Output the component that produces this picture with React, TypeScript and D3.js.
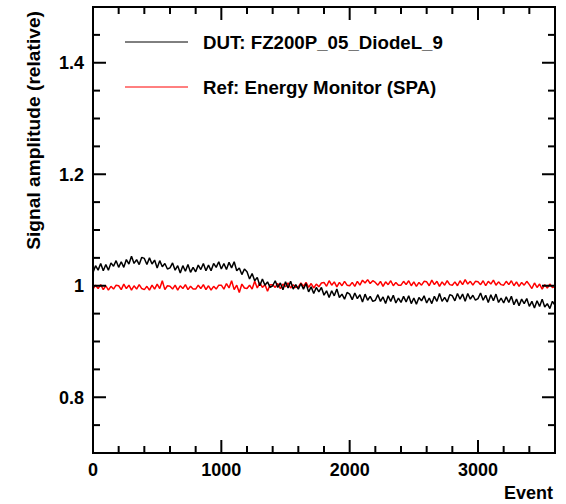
import React from "react";
import * as d3 from "d3";

// Sampled every 20 events (0..3600)
const STEP = 20;
const dutValues = [
  1.024, 1.036, 1.028, 1.040, 1.027, 1.038, 1.028, 1.041, 1.035, 1.045,
  1.033, 1.043, 1.033, 1.047, 1.039, 1.053, 1.040, 1.047, 1.038, 1.051,
  1.049, 1.038, 1.050, 1.039, 1.046, 1.032, 1.045, 1.034, 1.040, 1.030,
  1.032, 1.041, 1.028, 1.036, 1.023, 1.036, 1.026, 1.038, 1.024, 1.033,
  1.025, 1.037, 1.029, 1.040, 1.027, 1.037, 1.027, 1.040, 1.033, 1.043,
  1.030, 1.040, 1.029, 1.042, 1.032, 1.043, 1.027, 1.032, 1.020, 1.030,
  1.025, 1.012, 1.022, 1.009, 1.015, 1.000, 1.012, 1.001, 1.007, 0.997,
  1.000, 1.009, 0.997, 1.005, 0.993, 1.007, 0.996, 1.008, 0.994, 1.002,
  0.994, 1.004, 0.994, 1.004, 0.989, 0.998, 0.986, 0.997, 0.989, 0.997,
  0.983, 0.991, 0.979, 0.991, 0.982, 0.994, 0.979, 0.985, 0.976, 0.988,
  0.985, 0.975, 0.987, 0.977, 0.984, 0.971, 0.985, 0.974, 0.981, 0.972,
  0.974, 0.984, 0.972, 0.980, 0.968, 0.982, 0.972, 0.983, 0.969, 0.978,
  0.970, 0.981, 0.971, 0.982, 0.968, 0.978, 0.967, 0.979, 0.973, 0.982,
  0.969, 0.978, 0.968, 0.981, 0.972, 0.986, 0.972, 0.979, 0.971, 0.984,
  0.982, 0.973, 0.986, 0.976, 0.985, 0.972, 0.986, 0.976, 0.983, 0.974,
  0.977, 0.987, 0.974, 0.983, 0.970, 0.984, 0.973, 0.985, 0.970, 0.978,
  0.969, 0.980, 0.970, 0.981, 0.966, 0.976, 0.964, 0.976, 0.968, 0.977,
  0.963, 0.972, 0.960, 0.973, 0.963, 0.976, 0.962, 0.968, 0.959, 0.972,
  0.965,
];
const refValues = [
  0.994, 1.001, 0.995, 1.002, 0.993, 1.000, 0.992, 0.999, 0.994, 1.001,
  1.000, 0.993, 1.003, 0.995, 1.001, 0.992, 1.000, 0.994, 1.002, 0.995,
  0.993, 0.999, 0.992, 1.001, 0.994, 1.003, 0.995, 1.009, 0.993, 1.000,
  0.999, 0.994, 1.001, 0.992, 1.000, 0.995, 1.002, 0.993, 0.999, 0.994,
  0.994, 1.001, 0.995, 1.002, 0.993, 1.000, 0.992, 0.999, 0.994, 1.001,
  1.001, 0.994, 1.004, 0.996, 1.009, 0.993, 1.001, 0.988, 1.003, 0.996,
  0.995, 1.001, 0.994, 1.008, 0.996, 1.005, 0.997, 1.002, 0.990, 1.002,
  1.002, 0.997, 1.004, 0.995, 1.003, 0.998, 1.005, 0.996, 1.002, 0.997,
  0.998, 1.005, 0.999, 1.006, 0.997, 1.004, 0.996, 1.003, 0.998, 1.005,
  1.006, 0.999, 1.009, 1.001, 1.007, 0.998, 1.006, 1.000, 1.008, 1.001,
  1.000, 1.006, 0.999, 1.008, 1.001, 1.010, 1.005, 1.011, 1.004, 1.009,
  1.006, 1.001, 1.008, 0.999, 1.007, 1.002, 1.009, 1.000, 1.006, 1.001,
  1.001, 1.008, 1.002, 1.009, 1.000, 1.007, 0.999, 1.006, 1.001, 1.008,
  1.007, 1.000, 1.010, 1.002, 1.008, 0.999, 1.007, 1.001, 1.009, 1.002,
  1.001, 1.007, 1.000, 1.009, 1.002, 1.011, 1.003, 1.008, 1.001, 1.008,
  1.007, 1.002, 1.009, 1.000, 1.008, 1.003, 1.010, 1.001, 1.007, 1.002,
  1.001, 1.008, 1.002, 1.009, 1.000, 1.007, 0.999, 1.006, 1.001, 1.008,
  1.002, 0.995, 1.005, 0.997, 1.003, 0.994, 1.002, 0.996, 1.003, 0.997,
  0.998,
];

const xMajor = [0, 1000, 2000, 3000];
const xLabels = ["0", "1000", "2000", "3000"];
const yMajor = [0.8, 1.0, 1.2, 1.4];
const yLabels = ["0.8", "1", "1.2", "1.4"];
const legendLabels = ["DUT: FZ200P_05_DiodeL_9", "Ref: Energy Monitor (SPA)"];
const seriesColors = ["#000000", "#ff0000"];

const W = 566;
const H = 504;
const L = 93, R = 555, T = 7, B = 453;
const FONT = "'Liberation Sans', Arial, Helvetica, sans-serif";

export default function App() {
  const x = d3.scaleLinear().domain([0, 3600]).range([L, R]);
  const y = d3.scaleLinear().domain([0.7, 1.5]).range([B, T]);
  const line = d3
    .line<number>()
    .x((_, i) => x(i * STEP))
    .y((d) => y(d));

  const xMinor = d3.range(0, 3601, 200).filter((v) => !xMajor.includes(v));
  const yMinor = d3
    .range(0, 17)
    .map((i) => +(0.7 + i * 0.05).toFixed(2))
    .filter((v) => !yMajor.some((m) => Math.abs(m - v) < 1e-6));

  const majLen = 13;
  const minLen = 7;
  const sw = 2;

  return (
    <svg
      width={W}
      height={H}
      style={{ position: "absolute", left: 0, top: 0, background: "#fff" }}
      fontFamily={FONT}
      fontWeight="bold"
    >
      <rect x={0} y={0} width={W} height={H} fill="#fff" />
      <path d={line(refValues) || ""} fill="none" stroke={seriesColors[1]} strokeWidth={1.5} strokeLinejoin="bevel" />
      <path d={line(dutValues) || ""} fill="none" stroke={seriesColors[0]} strokeWidth={1.5} strokeLinejoin="bevel" />

      {/* x ticks */}
      {xMajor.map((v) => (
        <g key={"xM" + v}>
          <line x1={x(v)} x2={x(v)} y1={B} y2={B - majLen} stroke="#000" strokeWidth={sw} />
          <line x1={x(v)} x2={x(v)} y1={T} y2={T + majLen} stroke="#000" strokeWidth={sw} />
        </g>
      ))}
      {xMinor.map((v) => (
        <g key={"xm" + v}>
          <line x1={x(v)} x2={x(v)} y1={B} y2={B - minLen} stroke="#000" strokeWidth={sw} />
          <line x1={x(v)} x2={x(v)} y1={T} y2={T + minLen} stroke="#000" strokeWidth={sw} />
        </g>
      ))}
      {/* y ticks */}
      {yMajor.map((v) => (
        <g key={"yM" + v}>
          <line x1={L} x2={L + majLen} y1={y(v)} y2={y(v)} stroke="#000" strokeWidth={sw} />
          <line x1={R} x2={R - majLen} y1={y(v)} y2={y(v)} stroke="#000" strokeWidth={sw} />
        </g>
      ))}
      {yMinor.map((v) => (
        <g key={"ym" + v}>
          <line x1={L} x2={L + minLen} y1={y(v)} y2={y(v)} stroke="#000" strokeWidth={sw} />
          <line x1={R} x2={R - minLen} y1={y(v)} y2={y(v)} stroke="#000" strokeWidth={sw} />
        </g>
      ))}

      <rect x={L} y={T} width={R - L} height={B - T} fill="none" stroke="#000" strokeWidth={sw} />

      {xMajor.map((v, i) => (
        <text key={"xl" + v} x={x(v)} y={476} textAnchor="middle" fontSize={18}>
          {xLabels[i]}
        </text>
      ))}
      {yMajor.map((v, i) => (
        <text key={"yl" + v} x={84} y={y(v) + 6.5} textAnchor="end" fontSize={18}>
          {yLabels[i]}
        </text>
      ))}
      <text x={553} y={499} textAnchor="end" fontSize={18}>
        Event
      </text>
      <text
        transform={`translate(40, ${T + 4}) rotate(-90)`}
        textAnchor="end"
        fontSize={19.2}
      >
        Signal amplitude (relative)
      </text>

      {/* legend */}
      {legendLabels.map((lab, i) => (
        <g key={lab}>
          <line x1={125} x2={188} y1={42 + i * 45} y2={42 + i * 45} stroke={seriesColors[i]} strokeWidth={1} />
          <text x={203} y={48.5 + i * 45} fontSize={18.7}>
            {lab}
          </text>
        </g>
      ))}
    </svg>
  );
}
